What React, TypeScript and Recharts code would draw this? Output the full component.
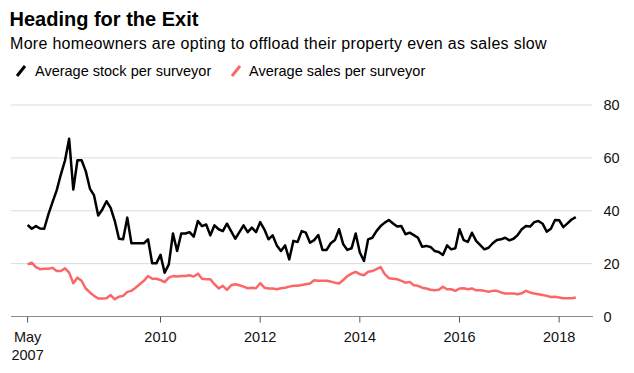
import { LineChart, Line, XAxis, YAxis, CartesianGrid, ReferenceLine } from 'recharts'

// monthly readings, May 2007 .. May 2018 (index 0 = May 2007)
const stock = [
  34.6, 33.2, 34.2, 33.3, 33.2, 38.6, 43.3, 47.7, 53.7, 59, 67.2, 48, 59.1, 59.1, 55, 48.4, 45.8, 38.2, 40.5, 43.6,
  41.1, 36.1, 29.4, 29.2, 37.4, 27.7, 27.7, 27.7, 27.7, 29.2, 20.1, 20.1, 23.3, 16.6, 19.7, 31.4, 24.8, 31.4, 31.4, 31.9,
  30.2, 36.1, 34.2, 34.8, 30.7, 34.5, 33, 32.3, 35.1, 32.3, 29.4, 31.9, 34.5, 31.9, 33.6, 31.9, 35.7, 33, 29.2, 30.7,
  26.9, 24.8, 26.9, 21.6, 28.6, 28.2, 32.3, 31.7, 27.9, 28.9, 30.8, 25.2, 25.2, 27.7, 28.9, 33, 27.3, 25.2, 25.8, 31.4,
  24.2, 21, 29.2, 29.8, 32.3, 34.2, 35.5, 36.5, 35.2, 34, 34.2, 31.1, 31.7, 30.8, 29.8, 26.4, 26.7, 26.3, 24.8, 24.4,
  23.3, 26.9, 25.4, 25.8, 33, 28.9, 28.2, 31.7, 28.6, 27, 25.4, 26, 27.7, 28.9, 29.2, 29.8, 28.8, 29.4, 30.8, 33,
  34.2, 34, 35.7, 36.1, 35.1, 32.1, 33.2, 36.5, 36.4, 33.8, 35.2, 36.7, 37.6,
]

const sales = [
  19.7, 20.4, 18.7, 17.9, 18.1, 18.1, 18.4, 17.2, 17.2, 18.2, 16.6, 12.6, 14.7, 13.5, 10.6, 9.1, 7.8, 6.8, 6.8, 6.9,
  8.1, 6.5, 7.5, 7.8, 9.3, 9.7, 10.9, 12.2, 13.5, 15.3, 14.3, 14.3, 13.8, 13, 14.7, 15.3, 15.1, 15.3, 15.3, 15.6,
  15.1, 16.2, 14.3, 14.1, 14.1, 12.2, 10.6, 11.6, 10.1, 11.8, 12.2, 11.8, 11.3, 10.7, 10.9, 10.7, 12.6, 10.9, 10.6, 10.6,
  10.3, 10.7, 10.9, 11.3, 11.6, 11.6, 11.9, 12.2, 12.5, 13.7, 13.5, 13.5, 13.5, 13.2, 12.8, 12.5, 13.8, 15.3, 16.2, 16.9,
  16, 15.6, 16.9, 17.2, 17.9, 18.7, 16, 14.5, 14.3, 14.1, 13.5, 12.8, 13.1, 11.8, 11.6, 10.9, 10.6, 10.1, 9.9, 10.1,
  11.2, 10.3, 10.3, 9.7, 10.6, 10.7, 10.3, 10.6, 9.9, 9.9, 9.7, 9.4, 9.7, 9.7, 9.1, 8.7, 8.7, 8.7, 8.4, 8.8,
  9.7, 9.1, 8.7, 8.4, 8.1, 7.8, 7.4, 7.5, 7.2, 6.9, 6.9, 6.9, 7.2,
]

// x ticks as month index from May 2007
const xTicks = [0, 32, 56, 80, 104, 128]
const xTickLabels = ['May\n2007', '2010', '2012', '2014', '2016', '2018']
const yTicks = [0, 20, 40, 60, 80]

const data = stock.map((s, i) => ({ i, stock: s, sales: sales[i] }))

const FONT = '"Liberation Sans", Arial, Helvetica, sans-serif'
const RED = '#fb6767'

// eslint-disable-next-line @typescript-eslint/no-explicit-any
function MonthTick({ x, y, payload }: any) {
  const idx = xTicks.indexOf(payload.value)
  const lines = (xTickLabels[idx] ?? '').split('\n')
  return (
    <text x={x} y={y} textAnchor="middle" fill="#111" fontSize={14.5} fontFamily={FONT}>
      {lines.map((l, k) => (
        <tspan key={k} x={x} dy={k === 0 ? 17.8 : 17.7}>
          {l}
        </tspan>
      ))}
    </text>
  )
}

export default function App() {
  return (
    <div style={{ position: 'absolute', left: 0, top: 0, width: 634, height: 373, background: '#fff' }}>
      <svg width={634} height={90} style={{ position: 'absolute', left: 0, top: 0 }}>
        <text x={9.5} y={25.7} fontSize={20} fontWeight="bold" fontFamily={FONT} fill="#000">
          Heading for the Exit
        </text>
        <text x={10} y={48.7} fontSize={16} letterSpacing={0.3} fontFamily={FONT} fill="#000">
          More homeowners are opting to offload their property even as sales slow
        </text>
        <line x1={17} y1={76} x2={25} y2={66} stroke="#000" strokeWidth={3} />
        <text x={35} y={76} fontSize={14.5} fontFamily={FONT} fill="#000">
          Average stock per surveyor
        </text>
        <line x1={232} y1={76} x2={240} y2={66} stroke={RED} strokeWidth={3} />
        <text x={249} y={76} fontSize={14.5} fontFamily={FONT} fill="#000">
          Average sales per surveyor
        </text>
      </svg>
      <div style={{ position: 'absolute', left: 0, top: 0 }}>
        <LineChart
          width={634}
          height={373}
          data={data}
          margin={{ top: 105, right: 0, left: 11, bottom: 26.5 }}
        >
          <CartesianGrid vertical={false} stroke="#dcdcdc" />
          <XAxis
            dataKey="i"
            type="number"
            domain={[-4, 136]}
            allowDataOverflow
            ticks={xTicks}
            height={30}
            tick={<MonthTick />}
            tickSize={6}
            tickMargin={2}
            axisLine={{ stroke: '#8a8a8a' }}
            tickLine={{ stroke: '#555' }}
          />
          <YAxis
            orientation="right"
            domain={[0, 80]}
            ticks={yTicks}
            width={41.6}
            axisLine={false}
            tickLine={false}
            tickSize={6}
            tickMargin={5}
            tick={{ fill: '#111', fontSize: 14.5, fontFamily: FONT, textAnchor: 'start' }}
          />
          <ReferenceLine segment={[{ x: -4, y: 0 }, { x: 7.1, y: 0 }]} stroke="#000" />
          <ReferenceLine segment={[{ x: 124.6, y: 0 }, { x: 136, y: 0 }]} stroke="#000" />
          <Line
            type="linear"
            dataKey="sales"
            stroke={RED}
            strokeWidth={2.5}
            dot={false}
            strokeLinejoin="round"
            isAnimationActive={false}
          />
          <Line
            type="linear"
            dataKey="stock"
            stroke="#000"
            strokeWidth={2.5}
            dot={false}
            strokeLinejoin="round"
            isAnimationActive={false}
          />
        </LineChart>
      </div>
    </div>
  )
}
